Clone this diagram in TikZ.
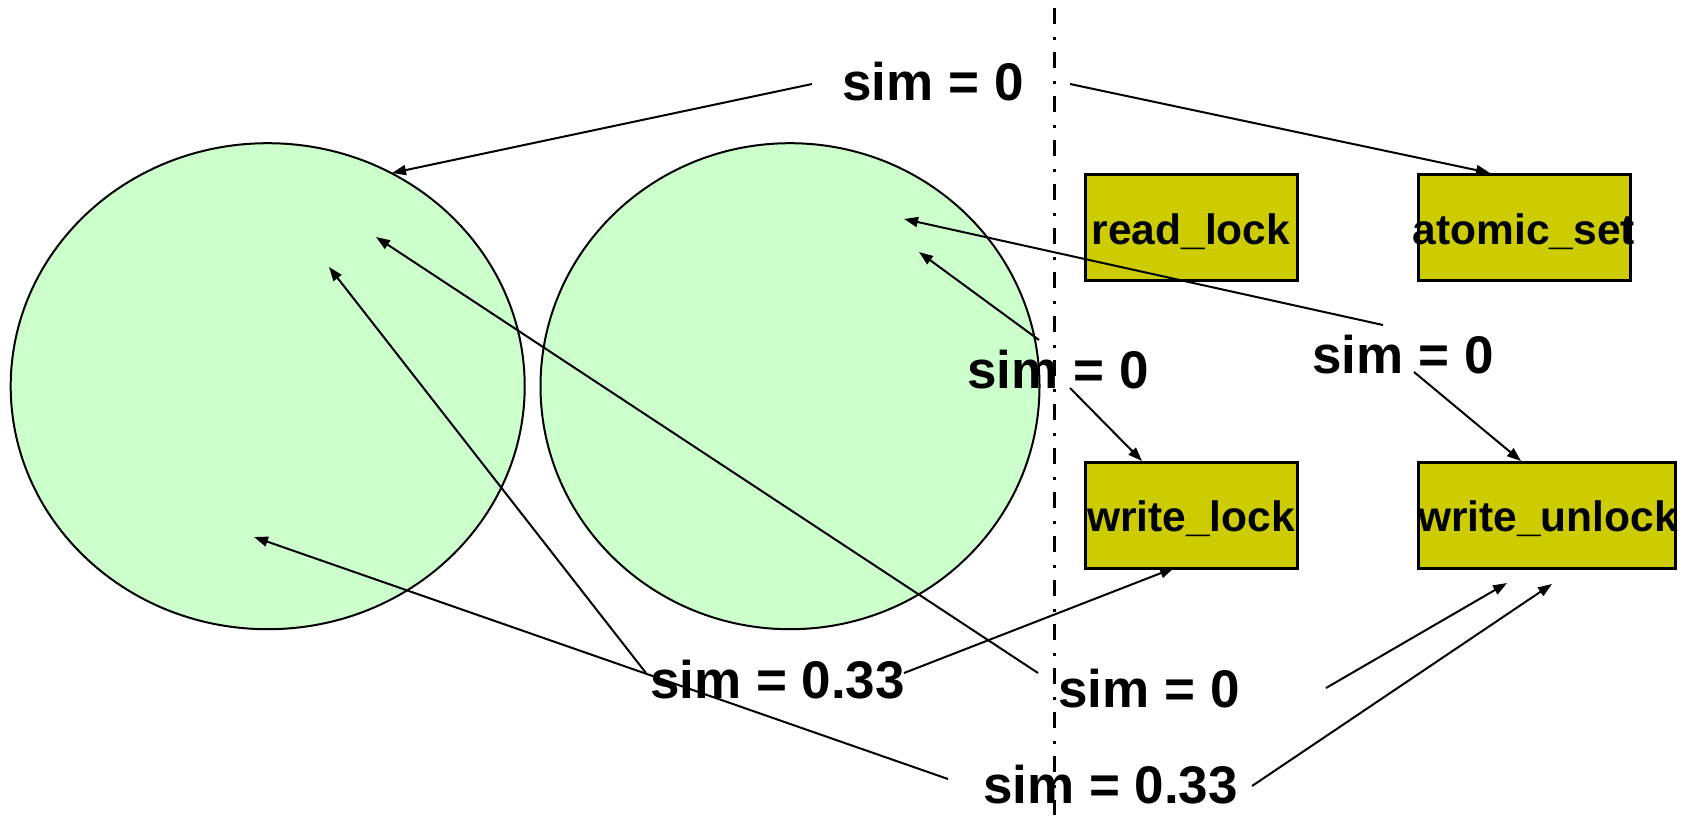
\documentclass[tikz,border=0pt]{standalone}
\usepackage{fontspec}
\setmainfont{Liberation Sans}
\usetikzlibrary{arrows.meta,shapes.geometric}
\definecolor{circfill}{RGB}{204,255,204}
\definecolor{boxfill}{RGB}{204,204,0}
\begin{document}
\begin{tikzpicture}[x=1pt,y=-1pt,
  circ/.style={ellipse, draw=black, line width=2pt, fill=circfill, inner sep=0pt},
  box/.style={rectangle, draw=black, line width=3pt, fill=boxfill, inner sep=0pt},
  lbl/.style={font=\fontsize{53}{60}\selectfont\bfseries, inner sep=0pt, anchor=base},
  btxt/.style={font=\fontsize{42.5}{48}\selectfont\bfseries, inner sep=0pt, anchor=base},
  arr/.style={line width=2pt, -{Triangle[length=14pt,width=10pt]}},
  sepline/.style={line width=3pt, dash pattern=on 16pt off 13pt on 3pt off 12pt}]
\useasboundingbox (0,0) rectangle (1689,815);

% circles
\node[circ, minimum width=514pt, minimum height=486pt] (c1) at (267.7,386.2) {};
\node[circ, minimum width=499pt, minimum height=486pt] (c2) at (790,386.2) {};

% boxes
\node[box, minimum width=212pt, minimum height=106pt] (b1) at (1191,227.5) {};
\node[box, minimum width=212pt, minimum height=106pt] (b2) at (1524,227.5) {};
\node[box, minimum width=212pt, minimum height=106pt] (b3) at (1191,515.2) {};
\node[box, minimum width=257pt, minimum height=106pt] (b4) at (1546.6,515.2) {};
\node[btxt] (t1) at (1191,244.3) {read\_lock};
\node[btxt] (t2) at (1524,244.3) {atomic\_set};
\node[btxt] (t3) at (1191,531) {write\_lock};
\node[btxt] (t4) at (1548,531) {write\_unlock};

% labels
\node[lbl] (s1) at (933,100.5) {sim = 0};
\node[lbl] (s2) at (1058,388) {sim = 0};
\node[lbl] (s3) at (1403,373) {sim = 0};
\node[lbl] (s4) at (777.5,698) {sim = 0.33};
\node[lbl] (s5) at (1149,707) {sim = 0};
\node[lbl] (s6) at (1110.5,803) {sim = 0.33};

% connector end points
\coordinate (s1l) at (812,84);    \coordinate (c1a) at (392,173);
\coordinate (s1r) at (1070,84);   \coordinate (b2t) at (1490,173);
\coordinate (s4a) at (646,673);   \coordinate (c1b) at (329,267);
\coordinate (s5a) at (1038,673);  \coordinate (c1c) at (376,237);
\coordinate (s6a) at (948,779);   \coordinate (c1d) at (254,537);
\coordinate (s3a) at (1383,325);  \coordinate (c2a) at (904,219);
\coordinate (s2a) at (1039,340);  \coordinate (c2b) at (919,252);
\coordinate (s2b) at (1070,388);  \coordinate (b3t) at (1142,461);
\coordinate (s3b) at (1414,372);  \coordinate (b4t) at (1521,461);
\coordinate (s4b) at (904,673);   \coordinate (b3b) at (1174,568);
\coordinate (free) at (1326,688); \coordinate (b4a) at (1507,583);
\coordinate (s6b) at (1252,786);  \coordinate (b4b) at (1552,584);

% connectors
\draw[arr] (s1l) -- (c1a);
\draw[arr] (s1r) -- (b2t);
\draw[arr] (s4a) -- (c1b);
\draw[arr] (s5a) -- (c1c);
\draw[arr] (s6a) -- (c1d);
\draw[arr] (s3a) -- (c2a);
\draw[arr] (s2a) -- (c2b);
\draw[arr] (s2b) -- (b3t);
\draw[arr] (s3b) -- (b4t);
\draw[arr] (s4b) -- (b3b);
\draw[arr] (free) -- (b4a);
\draw[arr] (s6b) -- (b4b);

% separator
\coordinate (sepTop) at (1054,8.3);
\coordinate (sepBot) at (1054,815);
\draw[sepline] (sepTop) -- (sepBot);
\end{tikzpicture}
\end{document}
